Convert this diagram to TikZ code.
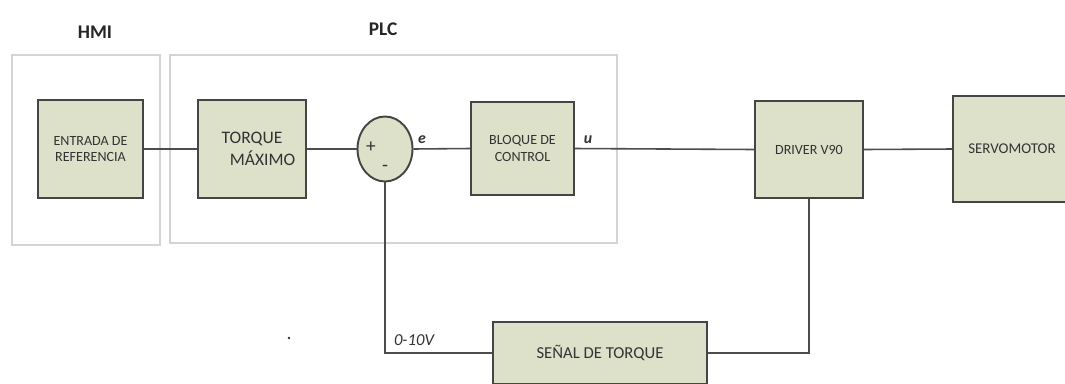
\documentclass[tikz,border=0pt]{standalone}
\usepackage{fontspec}
\setmainfont{Carlito}
\usetikzlibrary{positioning,shapes.geometric,calc}
\definecolor{boxfill}{HTML}{DDE1CA}
\definecolor{boxline}{HTML}{454545}
\definecolor{framegray}{HTML}{D4D4D4}

\begin{document}
\begin{tikzpicture}[x=0.02cm,y=-0.02cm,
  blk/.style={draw=boxline,line width=1.1pt,fill=boxfill,align=center,inner sep=1pt,
    text=black!80,font=\fontsize{8}{9.5}\selectfont},
  frm/.style={draw=framegray,line width=0.9pt},
  wire/.style={draw=black!70,line width=0.9pt},
  ttl/.style={font=\bfseries\fontsize{11}{13}\selectfont,text=black!85}]
\clip (0,0) rectangle (1065,383);
\useasboundingbox (0,0) rectangle (1065,383);
% frames
\draw[frm] (12,55) rectangle (160,245);
\draw[frm] (170,55) rectangle (617,243);
\node[ttl] (hmi) at (95,32) {HMI};
\node[ttl] (plc) at (383,29) {PLC};
% blocks
\node[blk,minimum width=105*0.02cm,minimum height=98*0.02cm] (ref) at (90.5,149) {ENTRADA DE\\REFERENCIA};
\node[blk,minimum width=108*0.02cm,minimum height=98*0.02cm,font=\fontsize{10}{12.5}\selectfont] (tmax) at (252,149) {TORQUE\\\hspace{1.2em}MÁXIMO};
\node[draw=boxline,line width=1.1pt,fill=boxfill,ellipse,minimum width=55*0.02cm,minimum height=65*0.02cm] (sum) at (385,149) {};
\node[blk,minimum width=103*0.02cm,minimum height=93*0.02cm] (ctrl) at (522.5,148.5) {BLOQUE DE\\CONTROL};
\node[blk,minimum width=108*0.02cm,minimum height=97*0.02cm] (drv) at (809,149.5) {DRIVER V90};
\node[blk,minimum width=118*0.02cm,minimum height=106*0.02cm,font=\fontsize{8.5}{10}\selectfont] (servo) at (1012,149) {SERVOMOTOR};
\node[blk,minimum width=214*0.02cm,minimum height=62*0.02cm,font=\fontsize{9.5}{11}\selectfont] (sig) at (600,353) {SEÑAL DE TORQUE};
% signs and labels
\node[font=\fontsize{11}{12}\selectfont,text=black!80] (plus) at (371,147) {+};
\node[font=\fontsize{11}{12}\selectfont,text=black!80] (minus) at (385,168) {-};
\node[font=\itshape\bfseries\fontsize{9}{10}\selectfont,text=black!80] (lble) at (422,140) {e};
\node[font=\itshape\bfseries\fontsize{9}{10}\selectfont,text=black!80] (lblu) at (588,140) {u};
\node[font=\itshape\fontsize{9.5}{10}\selectfont,text=black!80] (lblv) at (414,340) {0-10V};
\fill[black!80] (289,338) circle (1.4);
% connections
\draw[wire] (ref.east) -- (tmax.west);
\draw[wire] (tmax.east) -- (sum.west);
\draw[wire] (sum.east) -- (ctrl.west);
\draw[wire] (ctrl.east) -- (drv.west);
\draw[wire] (drv.east) -- (servo.west);
\draw[wire] (drv.south) |- (sig.east);
\draw[wire] (sig.west) -| (sum.south);
\end{tikzpicture}
\end{document}
